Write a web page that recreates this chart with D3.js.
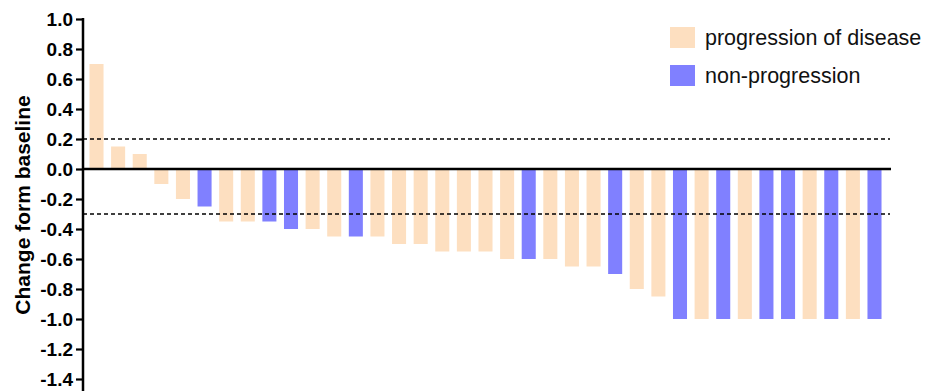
<!DOCTYPE html>
<html>
<head>
<meta charset="utf-8">
<script src="https://cdn.jsdelivr.net/npm/d3@7"></script>
<style>
  html, body { margin: 0; padding: 0; background: #fff; }
  svg { display: block; font-family: "Liberation Sans", Arial, sans-serif; }
</style>
</head>
<body>
<svg id="chart" width="925" height="391"></svg>
<script>
// Per-patient change from baseline, sorted high to low
const patients = d3.range(1, 38).map(i => "P" + i);
const changes = [
  0.70, 0.15, 0.10, -0.10, -0.20, -0.25, -0.35, -0.35, -0.35, -0.40,
  -0.40, -0.45, -0.45, -0.45, -0.50, -0.50, -0.55, -0.55, -0.55, -0.60,
  -0.60, -0.60, -0.65, -0.65, -0.70, -0.80, -0.85, -1.00, -1.00, -1.00,
  -1.00, -1.00, -1.00, -1.00, -1.00, -1.00, -1.00
];
// "P" = progression of disease, "N" = non-progression
const groups = [
  "P", "P", "P", "P", "P", "N", "P", "P", "N", "N",
  "P", "P", "N", "P", "P", "P", "P", "P", "P", "P",
  "N", "P", "P", "P", "N", "P", "P", "N", "P", "N",
  "P", "N", "N", "P", "N", "P", "N"
];
const groupNames = ["progression of disease", "non-progression"];
const groupKeys = ["P", "N"];
const yTicks = [1.0, 0.8, 0.6, 0.4, 0.2, 0.0, -0.2, -0.4, -0.6, -0.8, -1.0, -1.2, -1.4];
const thresholds = [0.2, -0.3];

const colors = { P: "#FDDFC0", N: "#8080FF" };

const svg = d3.select("#chart");
const axisX = 83;

const x = d3.scaleBand()
  .domain(patients)
  .range([83, 888])
  .paddingInner(0.35)
  .paddingOuter(0.3);

const y = d3.scaleLinear()
  .domain([-1.4, 1.0])
  .range([379, 19]);

const data = patients.map((p, i) => ({ id: p, value: changes[i], group: groups[i] }));

// Bars
svg.append("g")
  .selectAll("rect")
  .data(data)
  .join("rect")
  .attr("x", d => x(d.id))
  .attr("width", x.bandwidth())
  .attr("y", d => y(Math.max(0, d.value)))
  .attr("height", d => Math.abs(y(d.value) - y(0)))
  .attr("fill", d => colors[d.group]);

// Threshold reference lines
svg.append("g")
  .selectAll("line")
  .data(thresholds)
  .join("line")
  .attr("x1", axisX)
  .attr("x2", 890)
  .attr("y1", d => y(d))
  .attr("y2", d => y(d))
  .attr("stroke", "#000")
  .attr("stroke-width", 1.3)
  .attr("stroke-dasharray", "4,3");

// Zero line
svg.append("line")
  .attr("x1", axisX)
  .attr("x2", 891)
  .attr("y1", y(0))
  .attr("y2", y(0))
  .attr("stroke", "#000")
  .attr("stroke-width", 2.5);

// Y axis
const yAxis = d3.axisLeft(y)
  .tickValues(yTicks)
  .tickFormat(d3.format(".1f"))
  .tickSize(7)
  .tickSizeOuter(0)
  .tickPadding(3);

const gy = svg.append("g")
  .attr("transform", `translate(${axisX},0)`)
  .call(yAxis);

gy.select(".domain").remove();
gy.append("line")
  .attr("x1", 0).attr("x2", 0)
  .attr("y1", y(1.0) - 1)
  .attr("y2", 391)
  .attr("stroke", "#000")
  .attr("stroke-width", 2.5);

gy.selectAll(".tick line").attr("stroke", "#000").attr("stroke-width", 2.2);
gy.selectAll(".tick text")
  .attr("fill", "#000")
  .style("font-size", "19px")
  .style("font-weight", "bold")
  .style("font-family", "'Liberation Sans', Arial, sans-serif")
  .text(d => d3.format(".1f")(d).replace("−", "-"));

// Y axis title
svg.append("text")
  .attr("transform", `translate(30,205) rotate(-90)`)
  .attr("text-anchor", "middle")
  .style("font-size", "21px")
  .style("font-weight", "bold")
  .attr("fill", "#000")
  .text("Change form baseline");

// Legend
const legend = svg.append("g")
  .selectAll("g")
  .data(groupKeys)
  .join("g")
  .attr("transform", (d, i) => `translate(670,${27 + i * 38})`);

legend.append("rect")
  .attr("width", 25)
  .attr("height", 21)
  .attr("fill", d => colors[d]);

legend.append("text")
  .attr("x", 35)
  .attr("y", 18)
  .style("font-size", "21.5px")
  .attr("fill", "#111")
  .text((d, i) => groupNames[i]);
</script>
</body>
</html>
